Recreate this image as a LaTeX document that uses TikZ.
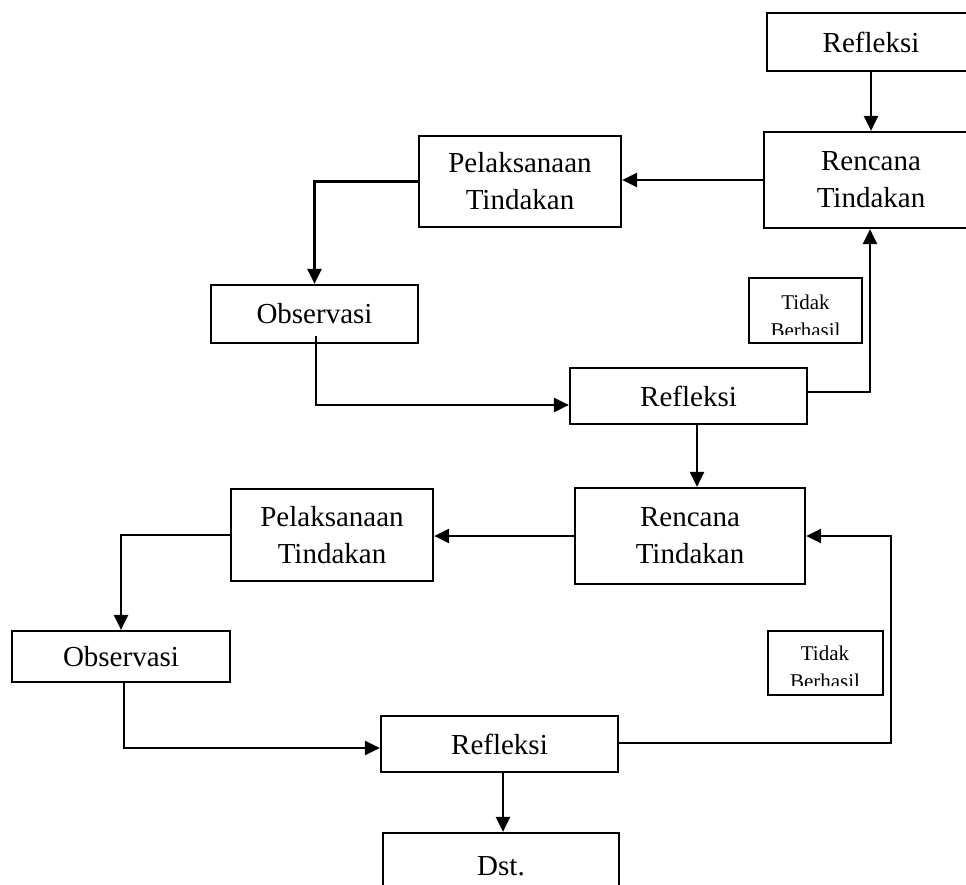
\documentclass[tikz,border=0pt]{standalone}
\usepackage{fontspec}
\setmainfont{Liberation Serif}
\usetikzlibrary{arrows.meta,calc}
\tikzset{
  box/.style={draw, line width=2.2pt, rectangle, inner sep=0pt, align=center,
    font=\fontsize{29}{37}\selectfont},
  tbox/.style={draw, line width=2.2pt, rectangle, inner sep=0pt},
  tbtext/.style={font=\fontsize{21}{24}\selectfont, anchor=base, inner sep=0pt},
  arr/.style={line width=2.5pt, -{Triangle[length=15pt,width=14pt]}},
}
\begin{document}
\begin{tikzpicture}[x=1pt,y=-1pt]
\useasboundingbox (0,0) rectangle (966,885);
% first cycle
\node[box, minimum width=208pt, minimum height=58pt] (ref0) at (871,42) {Refleksi};
\node[box, minimum width=214pt, minimum height=96pt] (ren1) at (871,180) {Rencana\\Tindakan};
\node[box, minimum width=202pt, minimum height=91pt] (pel1) at (520,181.5) {Pelaksanaan\\Tindakan};
\node[box, minimum width=207pt, minimum height=58pt] (obs1) at (314.5,314) {Observasi};
\node[box, minimum width=237pt, minimum height=56pt] (ref1) at (688.5,396) {Refleksi};
\node[tbox, minimum width=113pt, minimum height=65pt] (tb1) at (805.5,310.5) {};
\begin{scope}
  \clip (tb1.north west) rectangle ($(tb1.south east)+(0,-10)$);
  \node[tbtext] (tb1a) at (805.5,309) {Tidak};
  \node[tbtext] (tb1b) at (805.5,337) {Berhasil};
\end{scope}
% second cycle
\node[box, minimum width=230pt, minimum height=96pt] (ren2) at (690,536) {Rencana\\Tindakan};
\node[box, minimum width=202pt, minimum height=92pt] (pel2) at (332,535) {Pelaksanaan\\Tindakan};
\node[box, minimum width=218pt, minimum height=51pt] (obs2) at (121,656.5) {Observasi};
\node[box, minimum width=237pt, minimum height=56pt] (ref2) at (499.5,744) {Refleksi};
\node[tbox, minimum width=115pt, minimum height=64pt] (tb2) at (825.5,663) {};
\begin{scope}
  \clip (tb2.north west) rectangle ($(tb2.south east)+(0,-11)$);
  \node[tbtext] (tb2a) at (825,660) {Tidak};
  \node[tbtext] (tb2b) at (825,688) {Berhasil};
\end{scope}
\node[box, minimum width=236pt, minimum height=67pt] (dst) at (501,866.5) {Dst.};
% connectors
\coordinate (o1s) at (316,336);
\coordinate (o2s) at (124,682);
\coordinate (c1) at (870,392);
\coordinate (c2) at (891,743);
\draw[arr] (ref0.south) -- (ren1.north);
\draw[arr] (ren1.west) -- (ren1.west -| pel1.east);
\draw[arr] (pel1.west) -| (obs1.north);
\draw[arr] (o1s) |- (ref1.west |- 0,405);
\draw[arr] (ref1.east |- c1) -- (c1) -- (c1 |- ren1.south);
\draw[arr] (ref1.south -| 697,0) -- (ren2.north -| 697,0);
\draw[arr] (ren2.west) -- (ren2.west -| pel2.east);
\draw[arr] (pel2.west) -| (obs2.north);
\draw[arr] (o2s) |- (ref2.west |- 0,748);
\draw[arr] (ref2.east |- c2) -- (c2) |- (ren2.east);
\draw[arr] (ref2.south -| 503,0) -- (dst.north -| 503,0);
\end{tikzpicture}
\end{document}
